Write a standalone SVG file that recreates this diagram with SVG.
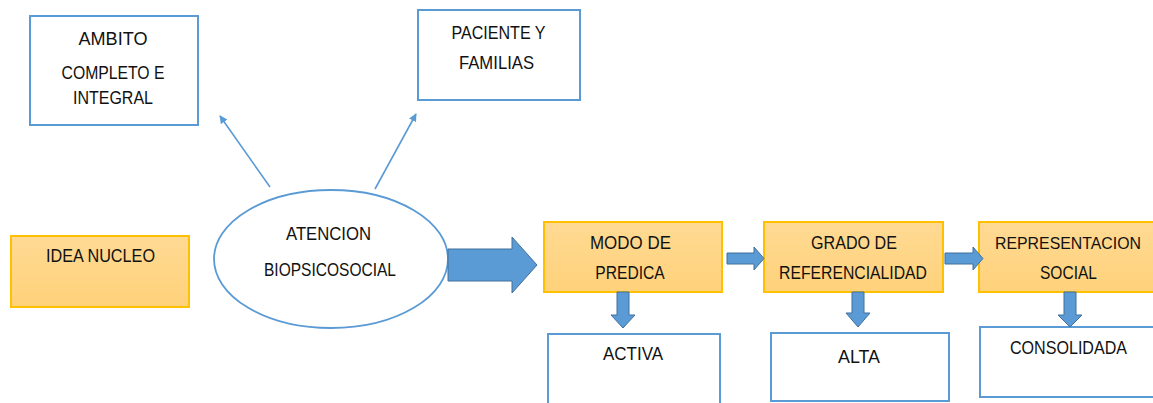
<svg xmlns="http://www.w3.org/2000/svg" width="1153" height="403" viewBox="0 0 1153 403">
<style>
.bx{fill:#ffffff;stroke:#5B9BD5;stroke-width:2}
.ob{fill:url(#og);stroke:#FFC000;stroke-width:2}
.t{font-family:"Liberation Sans",Arial,sans-serif;font-size:18.5px;fill:#111111;text-anchor:middle}
.ln{stroke:#5B9BD5;stroke-width:1.6;fill:none}
.ba{fill:#5B9BD5;stroke:#41719C;stroke-width:1}
</style>
<defs>
<linearGradient id="og" x1="0" y1="0" x2="0" y2="1">
<stop offset="0" stop-color="#FFDA94"/>
<stop offset="1" stop-color="#FFD27A"/>
</linearGradient>
<marker id="ah" viewBox="0 0 10 10" refX="9" refY="5" markerWidth="8" markerHeight="8" markerUnits="userSpaceOnUse" orient="auto">
<path d="M0,0 L10,5 L0,10 z" fill="#5B9BD5"/>
</marker>
</defs>
<g id="ambito">
<rect class="bx" x="30" y="16" width="168" height="109"/>
<text class="t" x="113" y="45" textLength="69" lengthAdjust="spacingAndGlyphs">AMBITO</text>
<text class="t" x="113" y="78.5" textLength="103" lengthAdjust="spacingAndGlyphs">COMPLETO E</text>
<text class="t" x="113" y="104" textLength="80" lengthAdjust="spacingAndGlyphs">INTEGRAL</text>
</g>
<g id="paciente">
<rect class="bx" x="418" y="10" width="162" height="90"/>
<text class="t" x="498.5" y="39" textLength="94" lengthAdjust="spacingAndGlyphs">PACIENTE Y</text>
<text class="t" x="496.5" y="69" textLength="75" lengthAdjust="spacingAndGlyphs">FAMILIAS</text>
</g>
<g id="idea">
<rect class="ob" x="11" y="236" width="178" height="71"/>
<text class="t" x="100.5" y="262" textLength="109" lengthAdjust="spacingAndGlyphs">IDEA NUCLEO</text>
</g>
<g id="atencion">
<ellipse cx="331" cy="259" rx="117" ry="69" fill="#ffffff" stroke="#5B9BD5" stroke-width="1.8"/>
<text class="t" x="328.5" y="240" textLength="85" lengthAdjust="spacingAndGlyphs">ATENCION</text>
<text class="t" x="330" y="276" textLength="132" lengthAdjust="spacingAndGlyphs">BIOPSICOSOCIAL</text>
</g>
<g id="modo">
<rect class="ob" x="544" y="222" width="178" height="70"/>
<text class="t" x="630.5" y="249" textLength="81" lengthAdjust="spacingAndGlyphs">MODO DE</text>
<text class="t" x="630" y="279" textLength="69.5" lengthAdjust="spacingAndGlyphs">PREDICA</text>
</g>
<g id="grado">
<rect class="ob" x="764" y="222" width="179" height="70"/>
<text class="t" x="854" y="249" textLength="86" lengthAdjust="spacingAndGlyphs">GRADO DE</text>
<text class="t" x="853" y="279" textLength="148" lengthAdjust="spacingAndGlyphs">REFERENCIALIDAD</text>
</g>
<g id="representacion">
<rect class="ob" x="979" y="222" width="180" height="70"/>
<text class="t" x="1068" y="249" textLength="146" lengthAdjust="spacingAndGlyphs" style="font-size:16.5px">REPRESENTACION</text>
<text class="t" x="1068.5" y="279" textLength="57" lengthAdjust="spacingAndGlyphs">SOCIAL</text>
</g>
<g id="activa">
<rect class="bx" x="548" y="334" width="172" height="75"/>
<text class="t" x="633" y="360" textLength="60" lengthAdjust="spacingAndGlyphs">ACTIVA</text>
</g>
<g id="alta">
<rect class="bx" x="771" y="333" width="178" height="68"/>
<text class="t" x="859" y="363" textLength="42" lengthAdjust="spacingAndGlyphs">ALTA</text>
</g>
<g id="consolidada">
<rect class="bx" x="980" y="327" width="180" height="70"/>
<text class="t" x="1068.5" y="354" textLength="117" lengthAdjust="spacingAndGlyphs">CONSOLIDADA</text>
</g>
<g id="connectors">
<line class="ln" x1="270" y1="187" x2="220" y2="116" marker-end="url(#ah)"/>
<line class="ln" x1="375" y1="189" x2="416" y2="114" marker-end="url(#ah)"/>
<polygon class="ba" points="448,249 512,249 512,237 537,265 512,293 512,281 448,281"/>
<polygon class="ba" points="727,253 754,253 754,247 764,258.5 754,270 754,264 727,264"/>
<polygon class="ba" points="945,253 973,253 973,247 983,258.5 973,270 973,264 945,264"/>
<polygon class="ba" points="617,292 629,292 629,315 635,315 623,328 611,315 617,315"/>
<polygon class="ba" points="852,292 864,292 864,313 870,313 858,327 846,313 852,313"/>
<polygon class="ba" points="1064,292 1076,292 1076,315 1082,315 1070,327 1058,315 1064,315"/>
</g>
</svg>
